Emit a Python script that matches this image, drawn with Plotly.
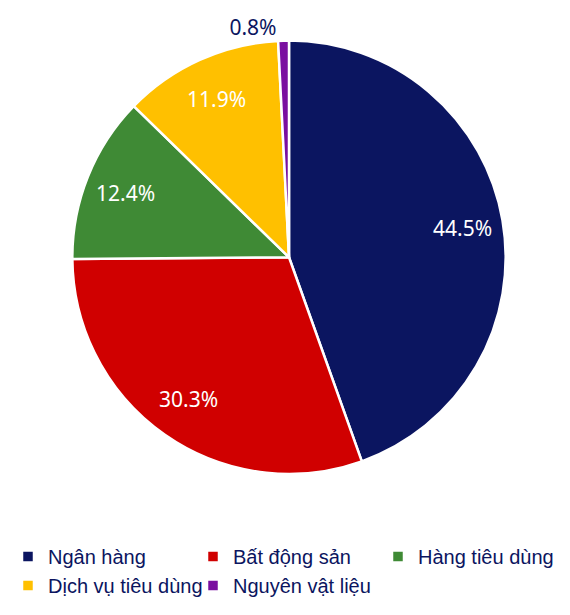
import math
import plotly.graph_objects as go

labels = ["Ngân hàng", "Bất động sản", "Hàng tiêu dùng", "Dịch vụ tiêu dùng", "Nguyên vật liệu"]
values = [44.5, 30.3, 12.4, 11.9, 0.8]
colors = ["#0B1560", "#D00000", "#3F8A35", "#FFC000", "#7A0FA0"]
positions = ["none", "none", "none", "none", "outside"]

# the page body has an 8px margin, so the figure is 8px smaller than the window
W, H = 562, 607
B = 80                      # bottom margin holding the legend
PH = H - B                  # plot area height
cx, cy, r = 281, 245, 220   # pie centre / radius in figure pixels


def px2paper(px):
    return px / W


def py2paper(py):
    return 1 - py / PH


fig = go.Figure()
fig.add_trace(go.Pie(
    labels=labels,
    values=values,
    sort=False,
    direction="clockwise",
    rotation=0,
    marker=dict(colors=colors, line=dict(color="white", width=2.5)),
    texttemplate="%{value:.1f}%",
    textposition=positions,
    outsidetextfont=dict(family="Noto Sans", size=21, color="#0B1560"),
    domain=dict(x=[px2paper(cx - r), px2paper(cx + r)], y=[py2paper(cy + r), py2paper(cy - r)]),
    hoverinfo="label+percent",
))

# inside labels sit at ~80% of the radius, at each slice's mid angle (like Excel)
total = sum(values)
cum = 0
for v, pos in zip(values, positions):
    mid = (cum + v / 2) / total * 2 * math.pi
    cum += v
    if pos != "none":
        continue
    px = cx + 0.8 * r * math.sin(mid)
    py = cy - 0.8 * r * math.cos(mid)
    fig.add_annotation(
        x=px2paper(px), y=py2paper(py), xref="paper", yref="paper",
        xanchor="center", yanchor="middle",
        text=f"{v:.1f}%", showarrow=False,
        font=dict(family="Noto Sans", size=21, color="white"),
    )

fig.update_layout(
    width=W, height=H,
    margin=dict(l=0, r=0, t=0, b=B),
    paper_bgcolor="white",
    showlegend=True,
    legend=dict(
        orientation="h",
        x=0, xanchor="left",
        y=py2paper(529), yanchor="top",
        entrywidth=140, entrywidthmode="pixels",
        font=dict(family="Liberation Sans", size=20, color="#0B1560"),
        traceorder="normal",
    ),
)

fig.write_html("out.html")
